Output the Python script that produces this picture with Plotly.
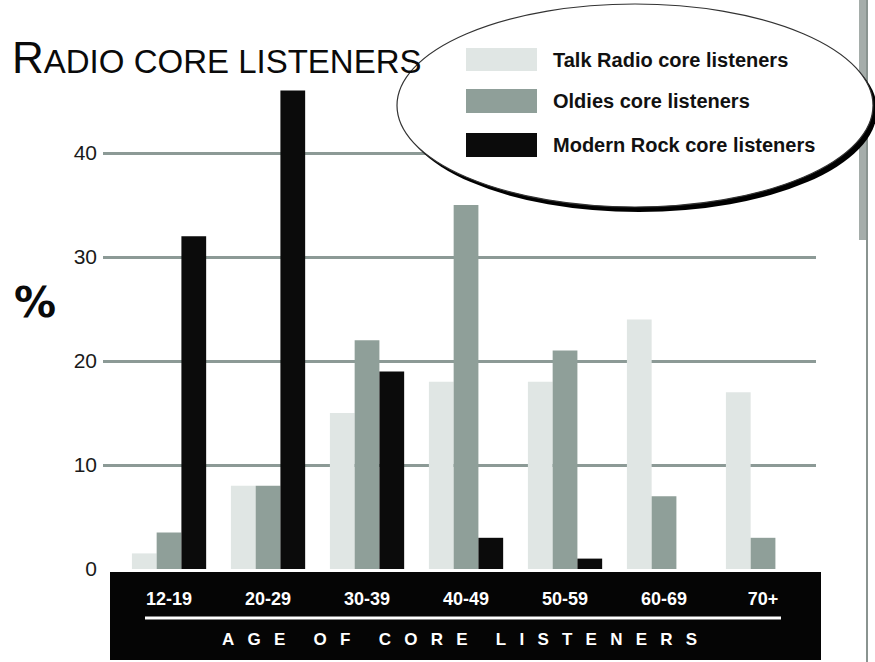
import plotly.graph_objects as go

# ---------------- data ----------------
age_groups = ["12-19", "20-29", "30-39", "40-49", "50-59", "60-69", "70+"]
series_names = ["Talk Radio core listeners", "Oldies core listeners", "Modern Rock core listeners"]
talk_radio = [1.5, 8, 15, 18, 18, 24, 17]
oldies = [3.5, 8, 22, 35, 21, 7, 3]
modern_rock = [32, 46, 19, 3, 1, 0, 0]
y_ticks = [0, 10, 20, 30, 40]
chart_title = "RADIO CORE LISTENERS"
x_title = "AGE OF CORE LISTENERS"
y_title = "%"

colors = ["#e0e6e4", "#8f9f99", "#0b0b0b"]
values = [talk_radio, oldies, modern_rock]

W, H = 875, 662
L, R, T, B = 103, 59, 85, 93
PW, PH = W - L - R, H - T - B
Y_MAX = 46.54

FONT = "Liberation Sans, Arial, sans-serif"


def px(x):
    return (x - L) / PW


def py(y):
    return (H - B - y) / PH


fig = go.Figure()
for name, vals, col in zip(series_names, values, colors):
    fig.add_trace(go.Bar(x=age_groups, y=vals, name=name, marker=dict(color=col, line=dict(width=0)),
                         showlegend=False))

shapes = []
# black band behind the x-axis labels
shapes.append(dict(type="rect", xref="paper", yref="paper", x0=px(110), x1=px(821), y0=py(660), y1=py(572),
                   fillcolor="#050505", line=dict(width=0), layer="below"))
# white rule in the band
shapes.append(dict(type="line", xref="paper", yref="paper", x0=px(145), x1=px(781), y0=py(618), y1=py(618),
                   line=dict(color="white", width=3), layer="below"))
# right edge of page
shapes.append(dict(type="rect", xref="paper", yref="paper", x0=px(859), x1=px(868), y0=py(240), y1=py(0),
                   fillcolor="#7f8a86", line=dict(width=0), layer="above", opacity=0.7))
shapes.append(dict(type="line", xref="paper", yref="paper", x0=px(867), x1=px(867), y0=py(662), y1=py(0),
                   line=dict(color="#8a9490", width=2), layer="above"))
# legend ellipse with shadow
shapes.append(dict(type="circle", xref="paper", yref="paper", x0=px(401), x1=px(877), y0=py(212), y1=py(8),
                   fillcolor="#000000", line=dict(width=0), layer="above"))
shapes.append(dict(type="circle", xref="paper", yref="paper", x0=px(397), x1=px(873), y0=py(207), y1=py(4),
                   fillcolor="white", line=dict(color="#333333", width=1.2), layer="above"))
# legend swatches
sw_y = [(48, 71), (89, 113), (133, 157)]
annotations = []
for (y0, y1), col, name in zip(sw_y, colors, series_names):
    shapes.append(dict(type="rect", xref="paper", yref="paper", x0=px(466), x1=px(537), y0=py(y1), y1=py(y0),
                       fillcolor=col, line=dict(width=0), layer="above"))
    annotations.append(dict(xref="paper", yref="paper", x=px(551), y=py((y0 + y1) / 2), xanchor="left",
                            yanchor="middle", showarrow=False, text="<b>" + name + "</b>",
                            font=dict(family=FONT, size=20, color="#111111")))

# chart title
annotations.append(dict(xref="paper", yref="paper", x=px(10), y=py(84), xanchor="left", yanchor="bottom",
                        showarrow=False,
                        text="<span style='font-size:44px'>" + chart_title[0] + "</span>" + chart_title[1:],
                        font=dict(family=FONT, size=33, color="#0a0a0a")))
# % label
annotations.append(dict(xref="paper", yref="paper", x=px(35), y=py(302), xanchor="center", yanchor="middle",
                        showarrow=False, text="<b>" + y_title + "</b>",
                        font=dict(family="DejaVu Sans, sans-serif", size=42, color="#0a0a0a")))

spaced = ("\u00a0" * 6).join(("\u2002\u00a0").join(w) for w in x_title.split(" "))

fig.update_layout(
    width=W, height=H,
    margin=dict(l=L, r=R, t=T, b=B, autoexpand=False),
    paper_bgcolor="white", plot_bgcolor="white",
    barmode="group", bargap=0.25, bargroupgap=0,
    shapes=shapes, annotations=annotations,
    showlegend=False,
    xaxis=dict(range=[-0.667, 6.535], showgrid=False, zeroline=False, showline=False, ticks="",
               ticklabelstandoff=17, automargin=False,
               tickfont=dict(family=FONT, size=18, color="white", weight="bold"),
               title=dict(text=spaced, standoff=25,
                          font=dict(family=FONT, size=17, color="white", weight="bold"))),
    yaxis=dict(range=[0, Y_MAX], tickvals=y_ticks, showgrid=True, gridcolor="#8c9a96", gridwidth=3,
               zeroline=False, showline=False, ticks="", ticklabelstandoff=5, automargin=False,
               tickfont=dict(family=FONT, size=21, color="#1a1a1a")),
)

fig.write_html("out.html")
